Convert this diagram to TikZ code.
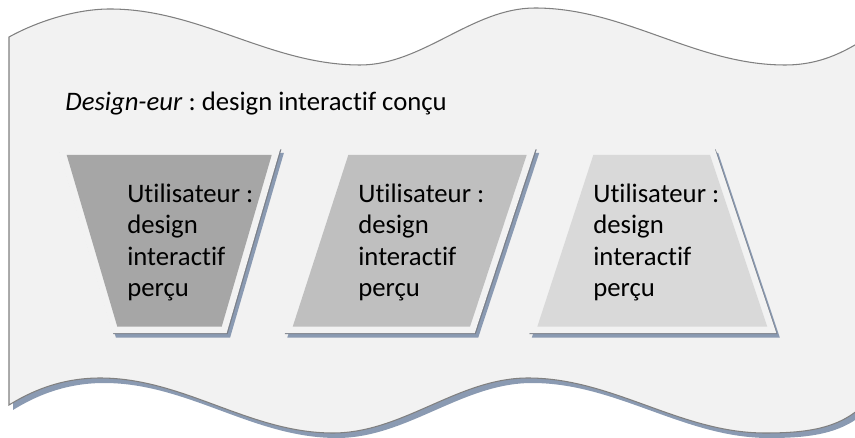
\documentclass[tikz,border=0pt]{standalone}
\usepackage{fontspec}
\setmainfont[Ligatures=NoCommon]{Carlito}
\usepackage{tikz}
\usetikzlibrary{calc}
\definecolor{fond}{HTML}{F2F2F2}
\definecolor{bord}{HTML}{808080}
\definecolor{ombre}{HTML}{8A9AB2}
\definecolor{ombrefonce}{HTML}{7A7F88}
\definecolor{gris1}{HTML}{A6A6A6}
\definecolor{gris2}{HTML}{BFBFBF}
\definecolor{gris3}{HTML}{D9D9D9}
\frenchspacing
\def\vague{(9,37) .. controls (40,20) and (78,9) .. (110,9)
	.. controls (200,9) and (270,65) .. (360,65)
	.. controls (423,65) and (472,8) .. (535,8)
	.. controls (625,8) and (695,65) .. (785,65)
	.. controls (825,65) and (850,48) .. (870,36)
	-- (870,398)
	.. controls (845,428) and (810,433) .. (765,433)
	.. controls (680,433) and (613,378) .. (528,378)
	.. controls (458,378) and (403,433) .. (333,433)
	.. controls (249,433) and (184,378) .. (100,378)
	.. controls (60,378) and (30,392) .. (9,405) -- cycle}
\def\boite[#1](#2)(#3)(#4)(#5){
	\filldraw[ombre, line width=7.4pt, line join=miter, shift={(3.5,4.5)}] (#2) -- (#3) -- (#4) -- (#5) -- cycle;
	\filldraw[ombrefonce, line width=7.4pt, line join=miter, shift={(1,1)}] (#2) -- (#3) -- (#4) -- (#5) -- cycle;
	\filldraw[fond, line width=7.4pt, line join=miter] (#2) -- (#3) -- (#4) -- (#5) -- cycle;
	\fill[#1] (#2) -- (#3) -- (#4) -- (#5) -- cycle;
}

\begin{document}
\begin{tikzpicture}[x=0.02cm, y=-0.02cm,
	texte/.style={anchor=base west, align=left, inner sep=0pt, font=\fontsize{15.2}{18}\selectfont}]
	%%%%% START %%%%%
	\useasboundingbox (0,0) rectangle (855,438);
	\clip (0,0) rectangle (855,438);
	
	\fill[ombre, shift={(4,5)}] \vague;
	\filldraw[fill=fond, draw=bord, line width=0.6pt] \vague;
	
	\node[texte] (titre) at (65,110.5) {\textit{Design-eur} : design interactif conçu};
	
	\boite[gris1](66.7,155)(271.7,155)(221.7,326.7)(117.3,326.7)
	\boite[gris2](348.3,155)(526.7,155)(470,326.7)(292.7,326.7)
	\boite[gris3](593.3,155)(710,155)(767.3,326.7)(537.3,326.7)
	
	% ancre base = ligne du bas
	\node[texte] (u1) at (127,297) {Utilisateur :\\design\\interactif\\perçu};
	\node[texte] (u2) at (358,297) {Utilisateur :\\design\\interactif\\perçu};
	\node[texte] (u3) at (593,297) {Utilisateur :\\design\\interactif\\perçu};
	
	%%%%% END %%%%%
\end{tikzpicture}
\end{document}
